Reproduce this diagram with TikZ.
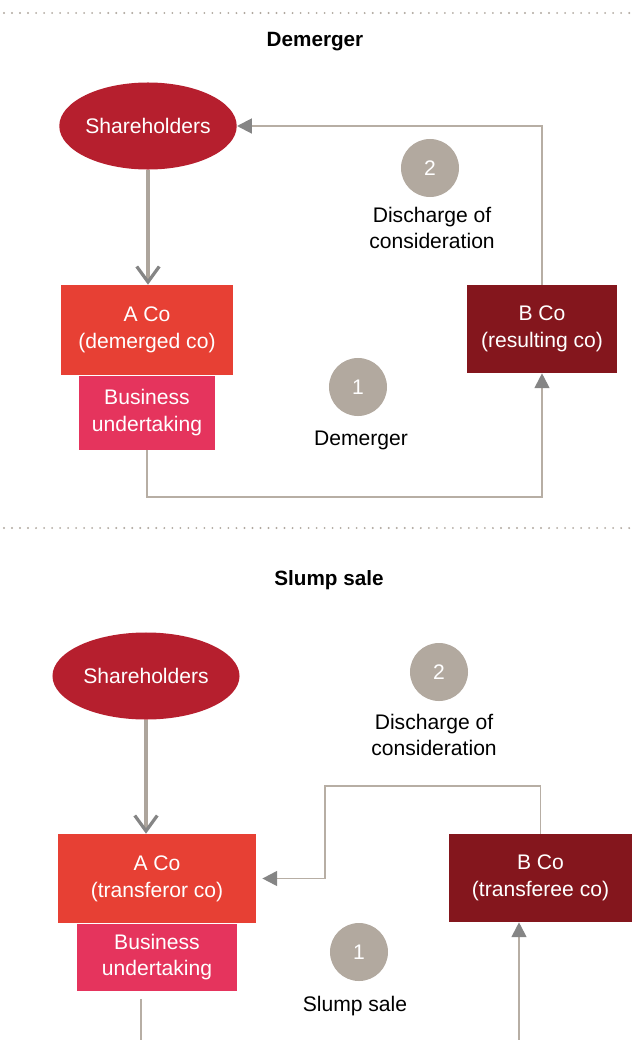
\documentclass[tikz,border=0pt]{standalone}
\usepackage{fontspec}
\setmainfont{Liberation Sans}
\usetikzlibrary{shapes.geometric,arrows.meta}

\definecolor{shred}{HTML}{B61F2E}
\definecolor{acored}{HTML}{E74034}
\definecolor{bupink}{HTML}{E5345D}
\definecolor{bcodark}{HTML}{84161D}
\definecolor{numgray}{HTML}{B2A99F}
\definecolor{linegray}{HTML}{B7AEA4}
\definecolor{feedgray}{HTML}{ADA59C}
\definecolor{tipgray}{HTML}{858585}
\definecolor{dotgray}{HTML}{B0A89F}

\begin{document}
\begin{tikzpicture}[x=0.025cm,y=-0.025cm,
    txt/.style={font=\fontsize{15}{19}\selectfont, align=center},
    title/.style={font=\fontsize{14.7}{17}\selectfont\bfseries},
    holder/.style={ellipse, fill=shred, text=white, inner sep=0pt, minimum height=2.175cm, txt},
    box/.style={rectangle, text=white, inner sep=0pt, txt},
    num/.style={circle, fill=numgray, text=white, minimum size=1.45cm, inner sep=0pt, txt},
    flow/.style={draw=linegray, line width=1.4pt},
    flowtip/.style={flow, -{Triangle[length=10.5pt,width=10.5pt,color=tipgray]}},
    feed/.style={draw=feedgray, line width=2.8pt, -{Straight Barb[length=11pt,width=16pt,line width=2.3pt,color=tipgray]}},
    sep/.style={draw=dotgray, line width=1.5pt, line cap=round, dash pattern=on 0pt off 5.7pt}]
        \useasboundingbox (0,0) rectangle (635,1040);

        % separators
        \coordinate (s1) at (4,13);
        \coordinate (s1e) at (635,13);
        \coordinate (s2) at (4,528);
        \coordinate (s2e) at (635,528);
        \draw[sep] (s1) -- (s1e);
        \draw[sep] (s2) -- (s2e);

        % demerger
        \node[title] (t1) at (315,42) {Demerger};
        \node[holder, minimum width=4.275cm] (sh1) at (148,126) {Shareholders};
        \node[box, fill=acored, minimum width=4.3cm, minimum height=2.25cm] (ac1) at (147,330) {A Co\\(demerged co)};
        \node[box, fill=bupink, minimum width=3.375cm, minimum height=1.85cm, anchor=north] (bu1) at (ac1.south) {Business\\undertaking};
        \node[box, fill=bcodark, minimum width=3.75cm, minimum height=2.2cm] (bc1) at (542,329) {B Co\\(resulting co)};
        \node[num] (n21) at (430,168) {2};
        \node[txt] (l21) at (432,228) {Discharge of\\consideration};
        \node[num] (n11) at (358,387) {1};
        \node[txt] (l11) at (361,440) {Demerger};

        \draw[feed] (sh1.south) -- (sh1.south |- ac1.north);
        \draw[flowtip] (bu1.south) -- ++(0,47) -| (bc1.south);
        \draw[flowtip] (bc1.north) |- (sh1.east);

        % slump sale
        \node[title] (t2) at (329,580) {Slump sale};
        \node[holder, minimum width=4.675cm] (sh2) at (146,676) {Shareholders};
        \node[box, fill=acored, minimum width=4.95cm, minimum height=2.225cm] (ac2) at (157,878.5) {A Co\\(transferor co)};
        \node[box, fill=bupink, minimum width=4cm, minimum height=1.675cm, anchor=north] (bu2) at (ac2.south) {Business\\undertaking};
        \node[box, fill=bcodark, minimum width=4.575cm, minimum height=2.2cm] (bc2) at (540.5,878) {B Co\\(transferee co)};
        \node[num] (n22) at (439,672) {2};
        \node[txt] (l22) at (434,735) {Discharge of\\consideration};
        \node[num] (n12) at (359,952) {1};
        \node[txt] (l12) at (355,1006) {Slump sale};

        \coordinate (k2) at (325,786);
        \coordinate (e1) at (141,1040);
        \coordinate (e2) at (519,1040);

        \draw[feed] (sh2.south) -- (sh2.south |- ac2.north);
        \draw[flowtip, shorten >=4.3pt] (bc2.north) |- (k2) |- (ac2.east);
        \draw[flow, shorten <=5.7pt] (bu2.south -| e1) -- (e1);
        \draw[flowtip] (e2) -- (e2 |- bc2.south);
\end{tikzpicture}
\end{document}
